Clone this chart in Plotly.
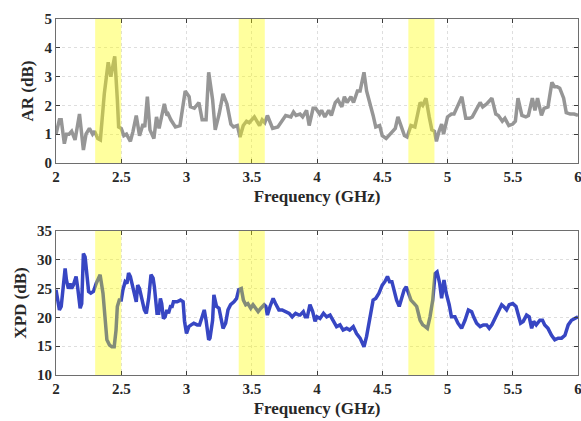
import plotly.graph_objects as go

# ---------------- data ----------------
ar_freq = [2.00, 2.015, 2.026, 2.04, 2.064, 2.08, 2.10, 2.12, 2.146, 2.18, 2.21, 2.23, 2.256, 2.28, 2.295,
           2.32, 2.34, 2.37, 2.40, 2.42, 2.45, 2.47, 2.48, 2.50, 2.52, 2.54, 2.57, 2.59, 2.615, 2.64,
           2.667, 2.68, 2.70, 2.72, 2.75, 2.77, 2.79, 2.83, 2.85, 2.86, 2.88, 2.915, 2.95, 2.99, 3.02,
           3.03, 3.06, 3.095, 3.12, 3.15, 3.17, 3.20, 3.22, 3.25, 3.28, 3.31, 3.34, 3.36, 3.39, 3.41,
           3.435, 3.46, 3.48, 3.52, 3.56, 3.58, 3.60, 3.62, 3.66, 3.70, 3.76, 3.80, 3.82, 3.84, 3.87,
           3.89, 3.92, 3.94, 3.97, 3.99, 4.02, 4.035, 4.06, 4.09, 4.11, 4.14, 4.16, 4.19, 4.21, 4.23,
           4.26, 4.28, 4.31, 4.33, 4.36, 4.38, 4.40, 4.43, 4.45, 4.48, 4.50, 4.53, 4.55, 4.58, 4.60,
           4.62, 4.65, 4.67, 4.69, 4.72, 4.75, 4.77, 4.79, 4.81, 4.835, 4.86, 4.88, 4.90, 4.915, 4.935,
           4.955, 4.97, 5.00, 5.03, 5.05, 5.08, 5.11, 5.14, 5.17, 5.19, 5.22, 5.25, 5.27, 5.30, 5.34,
           5.37, 5.39, 5.42, 5.44, 5.47, 5.50, 5.52, 5.54, 5.57, 5.60, 5.62, 5.65, 5.67, 5.69, 5.72,
           5.74, 5.77, 5.80, 5.82, 5.84, 5.86, 5.89, 5.91, 5.94, 5.97, 6.00]
ar_db = [1.0, 1.3, 1.5, 1.5, 0.67, 1.0, 1.0, 1.1, 0.8, 1.7, 0.45, 1.0, 1.2, 1.0, 1.1,
         0.85, 0.8, 2.4, 3.5, 3.0, 3.7, 2.2, 1.25, 1.2, 0.95, 1.0, 0.75, 1.1, 1.65, 0.95,
         1.35, 1.25, 2.3, 1.15, 0.85, 1.6, 1.2, 2.05, 1.65, 1.7, 1.5, 1.25, 1.3, 2.5, 2.3,
         1.95, 1.9, 2.1, 1.5, 1.5, 3.15, 2.2, 1.15, 1.7, 2.4, 2.05, 1.35, 1.25, 1.3, 0.9,
         1.3, 1.45, 1.4, 1.6, 1.3, 1.5, 1.4, 1.65, 1.2, 1.25, 1.65, 1.6, 1.77, 1.65, 1.7,
         1.6, 1.83, 1.3, 1.9, 1.9, 1.7, 1.83, 1.6, 1.83, 1.65, 2.1, 2.2, 1.95, 2.3, 2.1,
         2.3, 2.1, 2.5, 2.5, 3.15, 2.5, 2.2, 1.65, 1.25, 1.3, 0.95, 0.85, 0.95, 1.1, 1.2,
         1.6, 1.2, 0.95, 0.9, 1.3, 1.25, 1.7, 2.1, 2.0, 2.25, 1.6, 1.15, 1.1, 0.75, 1.1,
         1.35, 1.0, 1.6, 1.7, 1.7, 2.0, 2.3, 1.55, 1.55, 1.6, 1.83, 2.1, 1.95, 2.05, 2.25,
         1.7, 1.65, 1.45, 1.55, 1.3, 1.35, 1.45, 2.25, 1.65, 1.6, 1.65, 2.25, 1.83, 2.25, 1.65,
         1.9, 1.95, 2.8, 2.65, 2.65, 2.6, 2.25, 1.75, 1.7, 1.7, 1.65]

xpd_freq = [2.00, 2.01, 2.026, 2.04, 2.056, 2.07, 2.08, 2.095, 2.108, 2.12, 2.133, 2.154, 2.167, 2.185, 2.197,
            2.21, 2.223, 2.236, 2.25, 2.267, 2.287, 2.308, 2.326, 2.338, 2.36, 2.377, 2.39, 2.41, 2.428, 2.446,
            2.46, 2.47, 2.485, 2.50, 2.513, 2.53, 2.544, 2.556, 2.57, 2.582, 2.60, 2.615, 2.626, 2.64, 2.66,
            2.677, 2.692, 2.71, 2.728, 2.744, 2.754, 2.767, 2.774, 2.787, 2.80, 2.81, 2.823, 2.836, 2.85, 2.862,
            2.877, 2.89, 2.90, 2.928, 2.954, 2.974, 2.985, 3.00, 3.018, 3.036, 3.056, 3.082, 3.10, 3.12, 3.136,
            3.15, 3.17, 3.18, 3.20, 3.21, 3.23, 3.249, 3.267, 3.28, 3.30, 3.318, 3.338, 3.364, 3.384, 3.40,
            3.42, 3.436, 3.454, 3.47, 3.492, 3.51, 3.53, 3.549, 3.57, 3.595, 3.608, 3.62, 3.64, 3.664, 3.682,
            3.708, 3.733, 3.759, 3.787, 3.81, 3.836, 3.862, 3.87, 3.895, 3.91, 3.926, 3.946, 3.967, 3.985, 4.00,
            4.023, 4.05, 4.074, 4.10, 4.125, 4.15, 4.176, 4.20, 4.227, 4.25, 4.278, 4.303, 4.33, 4.36, 4.38,
            4.405, 4.43, 4.45, 4.475, 4.50, 4.52, 4.54, 4.556, 4.574, 4.59, 4.61, 4.63, 4.65, 4.668, 4.684,
            4.70, 4.72, 4.745, 4.764, 4.79, 4.81, 4.83, 4.846, 4.866, 4.887, 4.905, 4.92, 4.94, 4.955, 4.973,
            4.99, 5.013, 5.03, 5.057, 5.08, 5.108, 5.134, 5.16, 5.185, 5.20, 5.223, 5.25, 5.275, 5.30, 5.32,
            5.34, 5.364, 5.39, 5.415, 5.43, 5.453, 5.473, 5.50, 5.525, 5.54, 5.56, 5.58, 5.606, 5.626, 5.645,
            5.66, 5.68, 5.708, 5.728, 5.745, 5.77, 5.797, 5.822, 5.848, 5.874, 5.90, 5.925, 5.95, 5.976, 6.00]
xpd_db = [24.8, 23.0, 21.3, 21.9, 25.9, 28.5, 26.5, 25.0, 25.9, 25.0, 25.6, 27.1, 25.0, 21.6, 22.4,
          31.1, 30.5, 27.1, 24.5, 24.2, 24.5, 25.9, 26.8, 27.4, 24.2, 19.5, 16.1, 15.2, 14.9, 14.9,
          17.8, 21.9, 23.0, 23.0, 24.8, 26.2, 25.9, 27.7, 27.1, 25.9, 24.2, 22.7, 25.6, 25.0, 23.0,
          21.3, 20.7, 23.3, 27.4, 26.8, 25.3, 21.9, 20.7, 20.7, 23.3, 22.4, 19.8, 20.1, 21.3, 20.7,
          21.9, 21.9, 22.7, 22.7, 23.0, 22.7, 19.3, 17.2, 18.4, 18.7, 19.0, 18.7, 18.7, 20.1, 21.3,
          19.5, 16.1, 16.4, 19.5, 23.9, 21.9, 21.6, 19.0, 18.1, 19.0, 21.3, 22.2, 22.7, 23.3, 24.8,
          25.0, 23.0, 22.2, 22.4, 21.6, 22.2, 21.6, 21.0, 21.6, 22.2, 21.9, 20.4, 21.9, 23.3, 22.4,
          21.3, 21.3, 21.0, 20.7, 20.1, 20.7, 20.4, 20.4, 21.0, 20.1, 20.1, 22.2, 21.0, 19.3, 20.1,
          19.8, 20.7, 20.1, 20.4, 19.5, 18.4, 18.7, 17.8, 18.1, 17.8, 18.4, 17.2, 16.4, 14.9, 16.7,
          19.5, 23.0, 23.3, 24.2, 25.6, 26.2, 27.1, 26.2, 26.2, 24.8, 23.0, 21.9, 23.3, 24.8, 25.3,
          24.2, 23.0, 22.4, 21.9, 19.5, 18.7, 18.4, 18.1, 20.1, 23.0, 27.6, 27.9, 25.9, 23.3, 26.5,
          24.2, 22.2, 20.1, 20.1, 19.0, 18.1, 19.5, 21.3, 21.0, 20.1, 19.0, 18.4, 18.7, 18.7, 18.1,
          18.7, 19.8, 21.0, 22.2, 21.9, 21.3, 22.2, 22.4, 21.9, 20.7, 19.0, 19.3, 20.4, 20.1, 18.1,
          19.3, 18.7, 19.5, 19.5, 18.7, 18.1, 16.9, 16.1, 16.4, 16.4, 16.9, 18.7, 19.5, 19.8, 20.1]

band_start = [2.3, 3.4, 4.7]
band_end = [2.5, 3.6, 4.9]

x_ticks = [2, 2.5, 3, 3.5, 4, 4.5, 5, 5.5, 6]
x_tick_text = ["2", "2.5", "3", "3.5", "4", "4.5", "5", "5.5", "6"]
ar_ticks = [0, 1, 2, 3, 4, 5]
xpd_ticks = [10, 15, 20, 25, 30, 35]

# ---------------- figure ----------------
FONT = "Liberation Serif"
fig = go.Figure()
fig.add_trace(go.Scatter(x=ar_freq, y=ar_db, mode="lines",
                         line=dict(color="rgb(150,150,150)", width=3.5),
                         xaxis="x", yaxis="y", showlegend=False))
fig.add_trace(go.Scatter(x=xpd_freq, y=xpd_db, mode="lines",
                         line=dict(color="rgb(55,70,195)", width=3.5),
                         xaxis="x2", yaxis="y2", showlegend=False))

for s, e in zip(band_start, band_end):
    for xr, yr in (("x", "y domain"), ("x2", "y2 domain")):
        fig.add_shape(type="rect", xref=xr, yref=yr, x0=s, x1=e, y0=0, y1=1,
                      fillcolor="rgba(255,255,0,0.38)", line=dict(width=0), layer="above")

axis_common = dict(
    showline=True, mirror="allticks", linecolor="rgb(110,110,110)", linewidth=1,
    ticks="inside", ticklen=4, tickcolor="rgb(60,60,60)",
    showgrid=True, gridcolor="rgb(222,222,222)", griddash="dot", gridwidth=1,
    zeroline=False, ticklabeloverflow="allow", automargin=False,
    tickfont=dict(family=FONT, size=15, color="rgb(40,40,40)", weight="bold"),
)
title_font = dict(family=FONT, size=17, color="rgb(40,40,40)", weight="bold")

fig.update_layout(
    width=581, height=421,
    margin=dict(l=56, r=3, t=19, b=46),
    paper_bgcolor="white", plot_bgcolor="white",
    xaxis=dict(domain=[0, 1], anchor="y", range=[2, 6], tickvals=x_ticks, ticktext=x_tick_text,
               title=dict(text="Frequency (GHz)", font=title_font, standoff=6), **axis_common),
    yaxis=dict(domain=[0.5955, 1], anchor="x", range=[0, 5], tickvals=ar_ticks,
               title=dict(text="AR (dB)", font=title_font, standoff=6), **axis_common),
    xaxis2=dict(domain=[0, 1], anchor="y2", range=[2, 6], tickvals=x_ticks, ticktext=x_tick_text,
                title=dict(text="Frequency (GHz)", font=title_font, standoff=6), **axis_common),
    yaxis2=dict(domain=[0, 0.4045], anchor="x2", range=[10, 35], tickvals=xpd_ticks,
                title=dict(text="XPD (dB)", font=title_font, standoff=6), **axis_common),
)

fig.write_html("out.html")
